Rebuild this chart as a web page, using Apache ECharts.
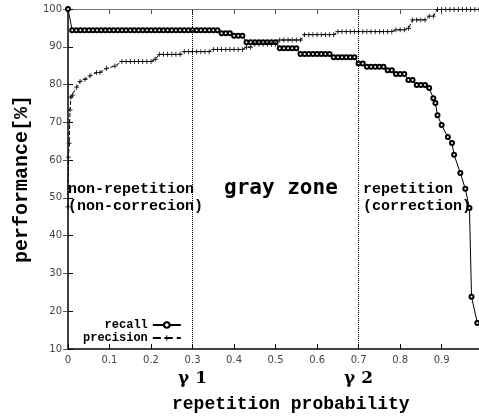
<!DOCTYPE html>
<html><head><meta charset="utf-8">
<script src="https://cdn.jsdelivr.net/npm/echarts@6/dist/echarts.min.js"></script>
<style>html,body{margin:0;padding:0;background:#fff}#c{width:479px;height:417px}</style>
</head><body><div id="c"></div>
<script>
// x positions and values
const recallX = [0,0.01,0.02,0.03,0.04,0.05,0.06,0.07,0.08,0.09,0.10,0.11,0.12,0.13,0.14,0.15,0.16,0.17,0.18,0.19,0.20,0.21,0.22,0.23,0.24,0.25,0.26,0.27,0.28,0.29,0.30,0.31,0.32,0.33,0.34,0.35,0.36,
  0.37,0.38,0.39,0.40,0.41,0.42,0.43,0.44,0.45,0.46,0.47,0.48,0.49,0.50,0.51,0.52,0.53,0.54,0.55,0.56,0.57,0.58,0.59,0.60,0.61,0.62,0.63,
  0.64,0.65,0.66,0.67,0.68,0.69,0.70,0.71,0.72,0.73,0.74,0.75,0.76,0.77,0.78,0.79,0.80,0.81,0.82,0.83,0.84,0.85,0.86,0.87,
  0.88,0.885,0.89,0.90,0.915,0.925,0.93,0.945,0.957,0.967,0.972,0.986];
const recallY = [100,94.4,94.4,94.4,94.4,94.4,94.4,94.4,94.4,94.4,94.4,94.4,94.4,94.4,94.4,94.4,94.4,94.4,94.4,94.4,94.4,94.4,94.4,94.4,94.4,94.4,94.4,94.4,94.4,94.4,94.4,94.4,94.4,94.4,94.4,94.4,94.4,
  93.6,93.6,93.6,92.9,92.9,92.9,91.2,91.2,91.2,91.2,91.2,91.2,91.2,91.2,89.6,89.6,89.6,89.6,89.6,88.1,88.1,88.1,88.1,88.1,88.1,88.1,88.1,
  87.2,87.2,87.2,87.2,87.2,87.2,85.6,85.6,84.7,84.7,84.7,84.7,84.7,83.8,83.8,82.8,82.8,82.8,81.2,81.2,79.9,79.9,79.9,79.1,
  76.4,75.1,71.9,69.3,66.1,64.5,61.4,56.6,52.4,47.3,23.8,16.9];
const precisionX = [0,0.001,0.003,0.004,0.005,0.007,0.011,0.021,0.029,0.041,0.053,0.069,0.077,0.093,0.113,
  0.13,0.14,0.15,0.16,0.17,0.18,0.19,0.20,0.21,0.22,0.23,0.24,0.25,0.26,0.27,0.28,0.29,0.30,0.31,0.32,0.33,0.34,
  0.35,0.36,0.37,0.38,0.39,0.40,0.41,0.42,0.43,0.44,0.45,0.46,0.47,0.48,0.49,0.50,0.51,0.52,0.53,0.54,0.55,0.56,
  0.57,0.58,0.59,0.60,0.61,0.62,0.63,0.64,0.65,0.66,0.67,0.68,0.69,0.70,0.71,0.72,0.73,0.74,0.75,0.76,0.77,0.78,
  0.79,0.80,0.81,0.82,0.83,0.84,0.85,0.86,0.87,0.88,0.89,0.90,0.91,0.92,0.93,0.94,0.95,0.96,0.97,0.98,0.99];
const precisionY = [47.6,60.8,64.5,70.0,73.3,76.7,77.2,79.3,80.8,81.4,82.3,83.2,83.2,84.3,84.9,
  86.1,86.1,86.1,86.1,86.1,86.1,86.1,86.1,86.7,88.0,88.0,88.0,88.0,88.0,88.0,88.7,88.7,88.7,88.7,88.7,88.7,88.7,
  89.3,89.3,89.3,89.3,89.3,89.3,89.3,89.3,89.9,89.9,90.7,90.7,90.7,90.7,90.7,90.7,91.8,91.8,91.8,91.8,91.8,91.8,
  93.2,93.2,93.2,93.2,93.2,93.2,93.2,93.2,94.0,94.0,94.0,94.0,94.0,94.0,94.0,94.0,94.0,94.0,94.0,94.0,94.0,94.0,
  94.5,94.5,94.5,94.9,97.1,97.1,97.1,97.1,98.1,98.1,99.9,99.9,99.9,99.9,99.9,99.9,99.9,99.9,99.9,99.9,99.9];
const thresholds = [0.3, 0.7];
const thresholdLabels = ['γ 1', 'γ 2'];

const mono = 'Liberation Mono';
const plus = 'path://M-0.16,-1 H0.16 V-0.16 H1 V0.16 H0.16 V1 H-0.16 V0.16 H-1 V-0.16 H-0.16 Z';
const chart = echarts.init(document.getElementById('c'), null, {renderer:'canvas'});
const tickLab = {fontFamily:'DejaVu Sans', fontSize:10, color:'#444'};
const baseGraphic = [
  {id:'t1', type:'text', left:68, top:181, style:{text:'non-repetition\n(non-correcion)', font:'bold 15px "Liberation Mono"', fill:'#000', lineHeight:17}},
  {id:'t2', type:'text', left:224, top:178, style:{text:'gray zone', font:'bold 21px "DejaVu Sans Mono"', fill:'#000'}},
  {id:'t3', type:'text', left:363, top:181, style:{text:'repetition\n(correction)', font:'bold 15px "Liberation Mono"', fill:'#000', lineHeight:17}},
  {id:'t4', type:'text', left:172, top:395, style:{text:'repetition probability', font:'bold 18px "Liberation Mono"', fill:'#000'}}
];
chart.setOption({
  animation:false,
  grid:{left:68, right:0, top:9, bottom:68},
  xAxis:[{type:'value', min:0, max:0.99, interval:0.1,
    axisLine:{lineStyle:{color:'#000', width:1.5}},
    axisTick:{inside:true, length:5, lineStyle:{color:'#000'}},
    axisLabel:Object.assign({showMaxLabel:false, margin:6, formatter:v=>String(Math.round(v*10)/10)}, tickLab),
    splitLine:{show:false}},
   {type:'value', position:'top', min:0, max:0.99, interval:0.1,
    axisLine:{show:true, lineStyle:{color:'#777', width:1}},
    axisTick:{inside:true, length:5, lineStyle:{color:'#555'}},
    axisLabel:{show:false}, splitLine:{show:false}}],
  yAxis:[{type:'value', min:10, max:100, interval:10,
    name:'performance[%]', nameLocation:'middle', nameGap:36, nameRotate:90,
    nameTextStyle:{fontFamily:mono, fontWeight:'bold', fontSize:20, color:'#000'},
    axisLine:{lineStyle:{color:'#000', width:1.5}},
    axisTick:{inside:true, length:5, lineStyle:{color:'#000'}},
    axisLabel:Object.assign({margin:6}, tickLab), splitLine:{show:false}},
   {type:'value', position:'right', min:10, max:100, interval:10,
    axisLine:{show:false}, axisTick:{show:true, inside:true, length:5, lineStyle:{color:'#555'}},
    axisLabel:{show:false}, splitLine:{show:false}}],
  legend:{orient:'vertical', left:78, top:314, align:'right', itemGap:1, itemWidth:28, itemHeight:7,
    textStyle:{fontFamily:mono, fontWeight:'bold', fontSize:12, color:'#000'},
    data:['recall','precision']},
  series:[
    {name:'recall', type:'line', data:recallX.map((x,i)=>[x,recallY[i]]),
     symbol:'emptyCircle', symbolSize:4, lineStyle:{color:'#000', width:1},
     itemStyle:{color:'#000', borderColor:'#000', borderWidth:1.3},
     markLine:{silent:true, symbol:'none', label:{show:false},
       lineStyle:{color:'#000', type:'dotted', width:1},
       data:thresholds.map(t=>({xAxis:t}))}},
    {name:'precision', type:'line', data:precisionX.map((x,i)=>[x,precisionY[i]]),
     symbol:plus, symbolSize:5, lineStyle:{color:'#000', width:1, type:'dashed'},
     itemStyle:{color:'#000'}}
  ],
  graphic:baseGraphic
});
const extra = thresholds.map((t,i)=>{
  const p = chart.convertToPixel({xAxisIndex:0, yAxisIndex:0}, [t, 10]);
  return {id:'g'+i, type:'text', x:p[0], y:p[1]+30, style:{text:thresholdLabels[i], font:'bold 17px "DejaVu Serif"', fill:'#000', align:'center', verticalAlign:'middle'}};
});
chart.setOption({graphic:baseGraphic.concat(extra)});
</script></body></html>
